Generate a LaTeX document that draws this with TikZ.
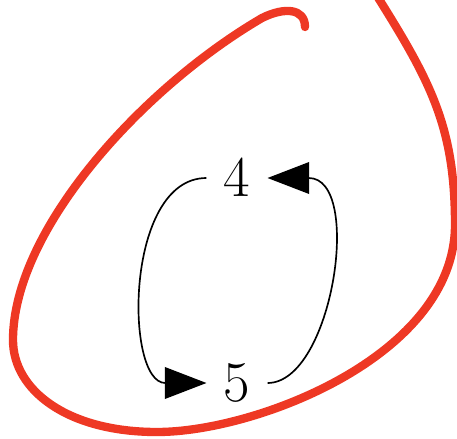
\documentclass[tikz,border=0pt]{standalone}
\usetikzlibrary{arrows.meta}
\definecolor{loopred}{RGB}{238,56,36}

\begin{document}
\begin{tikzpicture}[
    x=0.3pt, y=-0.3pt,
    % Node styles
    state/.style={inner sep=5pt, font=\fontsize{16}{19}\selectfont},
    arrow/.style={-{Triangle[length=12.5pt, width=9.5pt]}, line width=0.5pt},
    region/.style={draw=loopred, line width=2.5pt, line cap=round, line join=round},
]
    \useasboundingbox (0,0) rectangle (457,439);

    % States
    \node[state] (n4) at (237,178) {$4$};
    \node[state] (n5) at (237,383) {$5$};

    % Transitions
    \draw[arrow] (n5.east) .. controls +(65,0) and +(96,0) .. (n4.east);
    \draw[arrow] (n4.west) .. controls +(-82,0) and +(-82,0) .. (n5.west);

    % Enclosing region
    \draw[region] (305,27) .. controls (305,8) and (284,7) .. (262,18)
        .. controls (142,88) and (13,230) .. (13,340)
        .. controls (13,390) and (67,432) .. (157,432)
        .. controls (257,432) and (455,355) .. (455,225)
        .. controls (455,125) and (430,80) .. (372,-12);

\end{tikzpicture}
\end{document}
